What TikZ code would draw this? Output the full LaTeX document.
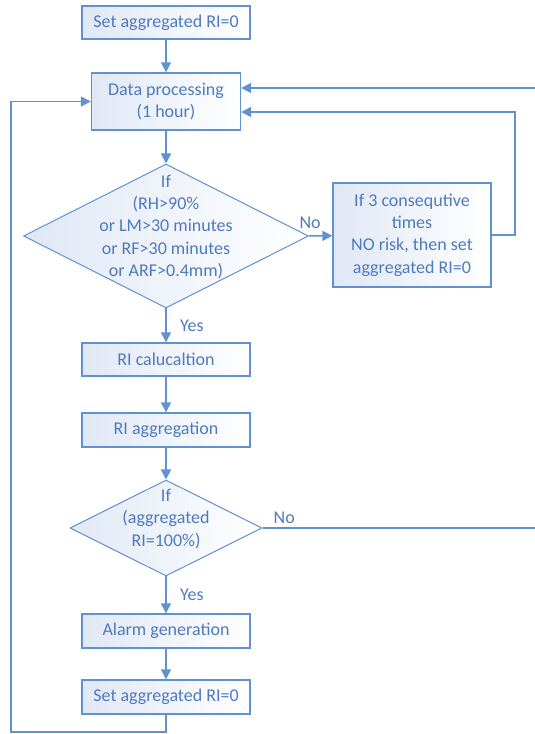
\documentclass[tikz,border=0pt]{standalone}
\usepackage{fontspec}
\setmainfont{Carlito}
\usetikzlibrary{arrows.meta,shapes.geometric}
\definecolor{flowblue}{RGB}{96,145,208}
\definecolor{textblue}{RGB}{78,122,190}
\definecolor{boxfill}{RGB}{224,232,245}
\tikzset{x=1pt, y=1pt,
    every node/.append style={font=\fontsize{18}{22.4}\selectfont, text=textblue},
    flowbox/.style={draw=flowblue, line width=1.4pt, left color=boxfill, right color=white,
        inner sep=0pt, align=center},
    decision/.style={diamond, draw=flowblue, line width=1pt, left color=boxfill, right color=white,
        inner sep=0pt},
    flow/.style={draw=flowblue, line width=1.5pt, -{Triangle[length=10pt,width=10pt]}},
    plain/.style={draw=flowblue, line width=1.5pt}
}

\begin{document}
\begin{tikzpicture}
                \useasboundingbox (0,0) rectangle (535,734);
                \node[flowbox, minimum width=168pt, minimum height=33pt] (setzero) at (166,711.5) {Set aggregated RI=0};
                \node[flowbox, minimum width=149pt, minimum height=57pt] (dataproc) at (166,632.5) {Data processing\\(1 hour)};
                \node[decision, minimum width=285pt, minimum height=144pt] (ifrisk) at (166,498) {};
                \node[align=center] (ifrisktext) at ([yshift=9pt]ifrisk.center) {If\\(RH>90\%\\or LM>30 minutes\\or RF>30 minutes\\or ARF>0.4mm)};
                \node[flowbox, minimum width=158pt, minimum height=104pt] (norisk) at (412,499) {If 3 consequtive\\times\\NO risk, then set\\aggregated RI=0};
                \node[flowbox, minimum width=168pt, minimum height=33pt] (calc) at (166,374.5) {RI calucaltion};
                \node[flowbox, minimum width=168pt, minimum height=34pt] (aggr) at (166,304) {RI aggregation};
                \node[decision, minimum width=192pt, minimum height=96pt] (iffull) at (166,206) {};
                \node[align=center] (iffulltext) at ([yshift=9pt]iffull.center) {If\\(aggregated\\RI=100\%)};
                \node[flowbox, minimum width=168pt, minimum height=34pt] (alarm) at (166,103) {Alarm generation};
                \node[flowbox, minimum width=168pt, minimum height=34pt] (reset) at (166,37) {Set aggregated RI=0};
                \coordinate (inright) at (535,646);
                \coordinate (rloop) at (515,622);
                \coordinate (outright) at (535,206);
                \coordinate (lloop) at (11,2);
                \draw[flow] (setzero) -- (dataproc);
                \draw[flow] (dataproc) -- (ifrisk.north);
                \draw[flow] (ifrisk.east) -- node[pos=0.05, above=3pt] {No} (norisk);
                \draw[flow] (norisk.east) -| (rloop) -- (rloop -| dataproc.east);
                \draw[flow] (inright) -- (inright -| dataproc.east);
                \draw[flow] (ifrisk.south) -- node[right=10pt] {Yes} (calc);
                \draw[flow] (calc) -- (aggr);
                \draw[flow] (aggr) -- (iffull.north);
                \draw[plain] (iffull.east) -- node[pos=0.08, above=0pt] {No} (outright);
                \draw[flow] (iffull.south) -- node[right=10pt] {Yes} (alarm);
                \draw[flow] (alarm) -- (reset);
                \draw[flow] (reset.south) |- (lloop) |- (dataproc.west);
            \end{tikzpicture}
\end{document}
